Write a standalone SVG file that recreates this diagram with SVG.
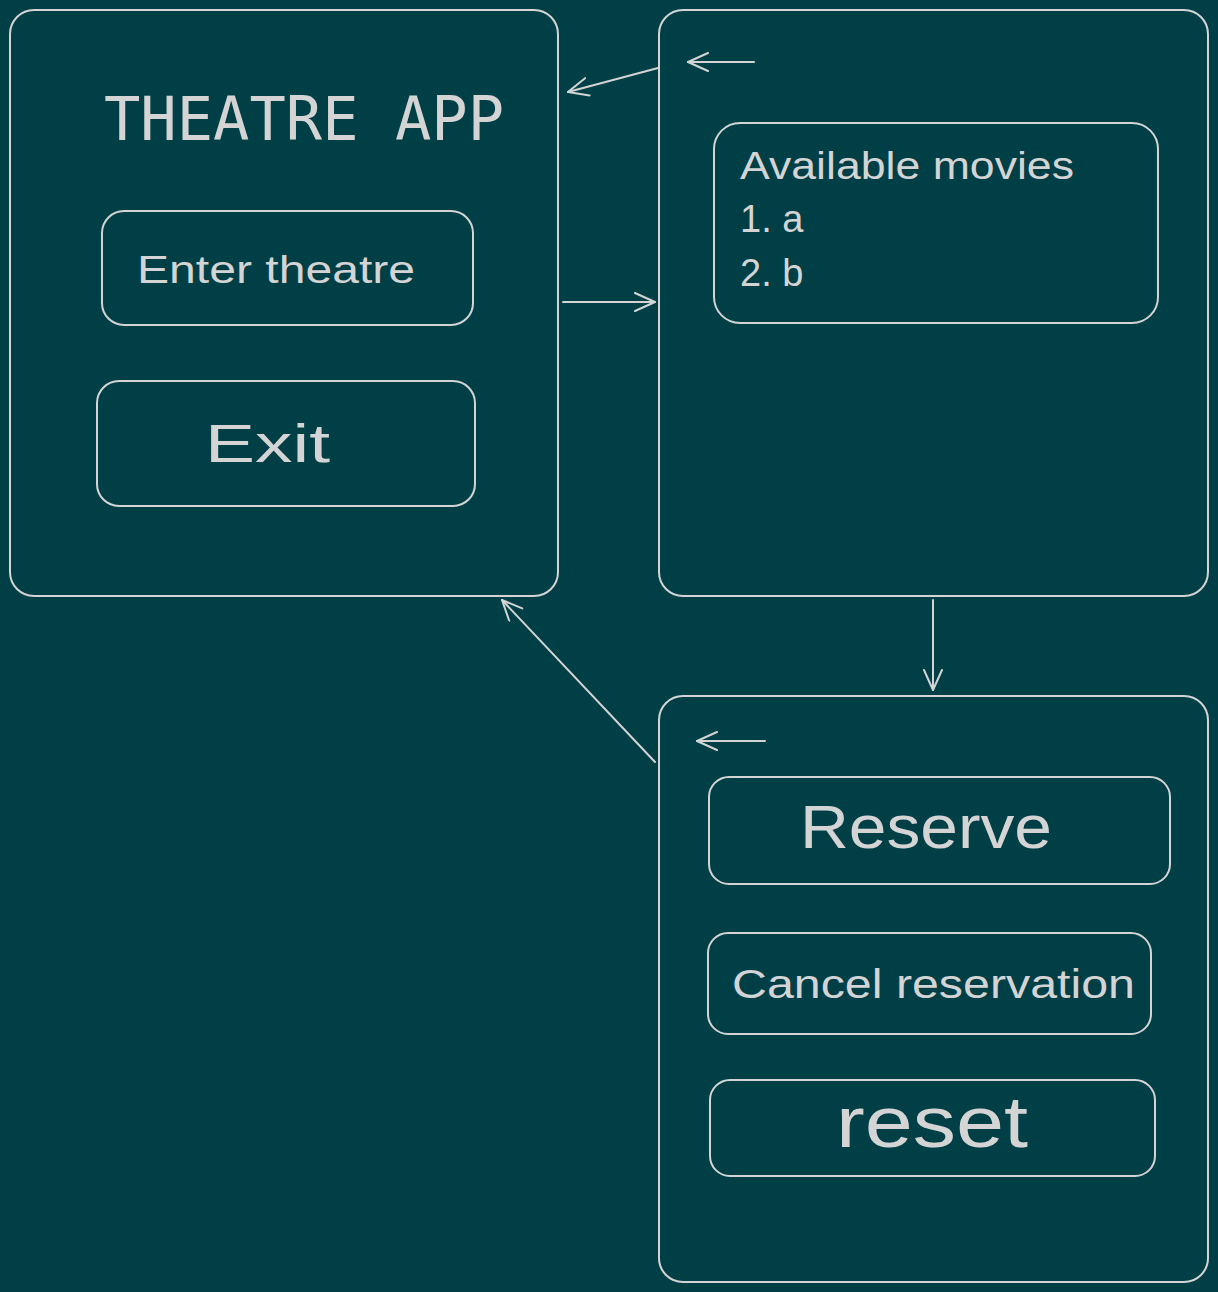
<svg xmlns="http://www.w3.org/2000/svg" width="1218" height="1292" viewBox="0 0 1218 1292">
<defs>
<marker id="ah" viewBox="0 0 24 20" refX="22" refY="10" markerWidth="24" markerHeight="20" markerUnits="userSpaceOnUse" orient="auto">
<path d="M2,1 L22,10 L2,19" fill="none" stroke="#d4d4d4" stroke-width="2" stroke-linecap="round" stroke-linejoin="round"/>
</marker>
<style>
.box{fill:none;stroke:#d4d4d4;stroke-width:2}
.hand{fill:#d4d4d4;font-family:"Liberation Sans","DejaVu Sans",sans-serif}
.mono{fill:#d4d4d4;font-family:"DejaVu Sans Mono","Liberation Mono",monospace}
.conn{fill:none;stroke:#d4d4d4;stroke-width:2;stroke-linecap:round;marker-end:url(#ah)}
</style>
</defs>
<rect width="1218" height="1292" fill="#013f47"/>
<g id="screen-main">
<rect class="box" x="10" y="10" width="548" height="586" rx="24"/>
<text class="mono" x="104" y="140" font-size="60" textLength="400" lengthAdjust="spacingAndGlyphs">THEATRE APP</text>
</g>
<g id="btn-enter">
<rect class="box" x="102" y="211" width="371" height="114" rx="22"/>
<text class="hand" x="137" y="283" font-size="38" textLength="278" lengthAdjust="spacingAndGlyphs">Enter theatre</text>
</g>
<g id="btn-exit">
<rect class="box" x="97" y="381" width="378" height="125" rx="22"/>
<text class="hand" x="205" y="462" font-size="54" textLength="125" lengthAdjust="spacingAndGlyphs">Exit</text>
</g>
<g id="screen-movies">
<rect class="box" x="659" y="10" width="549" height="586" rx="24"/>
</g>
<g id="movies-list">
<rect class="box" x="714" y="123" width="444" height="200" rx="26"/>
<text class="hand" x="740" y="179" font-size="38" textLength="334" lengthAdjust="spacingAndGlyphs">Available movies</text>
<text class="hand" x="740" y="232" font-size="38">1. a</text>
<text class="hand" x="740" y="286" font-size="38">2. b</text>
</g>
<g id="screen-reserve">
<rect class="box" x="659" y="696" width="549" height="586" rx="24"/>
</g>
<g id="btn-reserve">
<rect class="box" x="709" y="777" width="461" height="107" rx="20"/>
<text class="hand" x="800" y="848" font-size="62" textLength="252" lengthAdjust="spacingAndGlyphs">Reserve</text>
</g>
<g id="btn-cancel">
<rect class="box" x="708" y="933" width="443" height="101" rx="20"/>
<text class="hand" x="732" y="998" font-size="40" textLength="403" lengthAdjust="spacingAndGlyphs">Cancel reservation</text>
</g>
<g id="btn-reset">
<rect class="box" x="710" y="1080" width="445" height="96" rx="20"/>
<text class="hand" x="836" y="1147" font-size="72" textLength="192" lengthAdjust="spacingAndGlyphs">reset</text>
</g>
<g id="connectors">
<line class="conn" x1="658" y1="68" x2="568" y2="92"/>
<line class="conn" x1="754" y1="62" x2="688" y2="62"/>
<line class="conn" x1="563" y1="302" x2="655" y2="302"/>
<line class="conn" x1="933" y1="600" x2="933" y2="690"/>
<line class="conn" x1="655" y1="762" x2="502" y2="600"/>
<line class="conn" x1="765" y1="741" x2="697" y2="741"/>
</g>
</svg>
